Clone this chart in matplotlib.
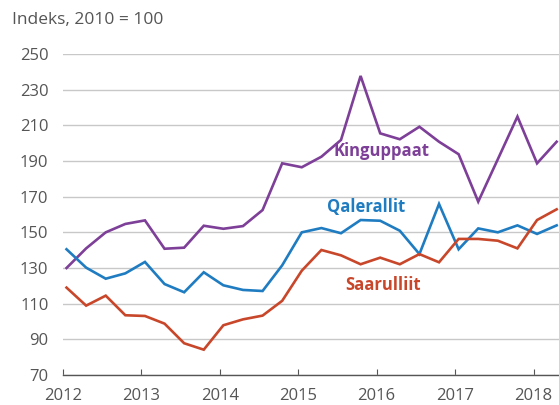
import numpy as np
import matplotlib
matplotlib.use("Agg")
import matplotlib.pyplot as plt

plt.rcParams['font.family'] = ['Open Sans', 'DejaVu Sans']

# Quarterly index values, 2012 Q1 .. 2018 Q2 (2010 = 100)
quarters = np.arange(2012, 2018.5, 0.25) + 0.045
kinguppaat = [130, 141, 150, 154.7, 156.7, 140.8, 141.4, 153.7, 152, 153.5, 162.5,
              188.7, 186.5, 192.4, 201.8, 237.7, 205.5, 202.2, 209.2, 200.8, 193.8,
              167.2, 191, 214.9, 188.7, 200.8]
qalerallit = [140.5, 130.2, 124, 127, 133.4, 121, 116.4, 127.6, 120.3, 117.7, 117.1,
              131.5, 150, 152.4, 149.5, 156.9, 156.5, 150.9, 137.8, 165.9, 140.5,
              152.2, 150, 153.9, 149.1, 153.9]
saarulliit = [119, 108.9, 114.5, 103.5, 103.1, 98.8, 87.8, 84.2, 97.9, 101.2, 103.3,
              111.6, 128.5, 140.1, 137.1, 132.1, 135.8, 132.1, 137.8, 133.2, 146.3,
              146.3, 145.3, 141, 156.9, 162.9]
yticks = [70, 90, 110, 130, 150, 170, 190, 210, 230, 250]
years = [2012, 2013, 2014, 2015, 2016, 2017, 2018]

c_purple = '#7d3f98'
c_blue = '#1f7cc1'
c_red = '#c8472b'
txt = '#555555'

fig = plt.figure(figsize=(5.59, 4.05), dpi=100)
ax = fig.add_axes([63 / 559, 1 - 375 / 405, (559 - 63) / 559, (375 - 54) / 405])

ax.plot(quarters, kinguppaat, color=c_purple, lw=1.9, solid_joinstyle='miter')
ax.plot(quarters, qalerallit, color=c_blue, lw=1.9, solid_joinstyle='miter')
ax.plot(quarters, saarulliit, color=c_red, lw=1.9, solid_joinstyle='miter')

ax.set_xlim(2012, 2018 + 25.3 * 0.25 - 6)
ax.set_ylim(70, 250)
ax.set_yticks(yticks)
ax.set_xticks(years)
ax.set_xticklabels([str(y) for y in years])
ax.grid(axis='y', color='#c8c8c8', lw=1)
ax.set_axisbelow(True)
for s in ['top', 'right', 'left']:
    ax.spines[s].set_visible(False)
ax.spines['bottom'].set_color('#555555')
ax.spines['bottom'].set_linewidth(1)
ax.tick_params(axis='x', direction='in', length=4.5, color='#555555', labelsize=12,
               labelcolor=txt, pad=9.5)
ax.tick_params(axis='y', length=0, labelsize=12, labelcolor=txt, pad=10.5)

ax.text(2016.06, 195.5, 'Kinguppaat', color=c_purple, fontsize=12, fontweight='bold',
        ha='center', va='center')
ax.text(2015.86, 164, 'Qalerallit', color=c_blue, fontsize=12, fontweight='bold',
        ha='center', va='center')
ax.text(2016.08, 120.5, 'Saarulliit', color=c_red, fontsize=12, fontweight='bold',
        ha='center', va='center')

fig.text(12 / 559, 1 - 20 / 405, 'Indeks, 2010 = 100', color=txt, fontsize=12.5,
         ha='left', va='center')

fig.savefig('out.png', dpi=100)
